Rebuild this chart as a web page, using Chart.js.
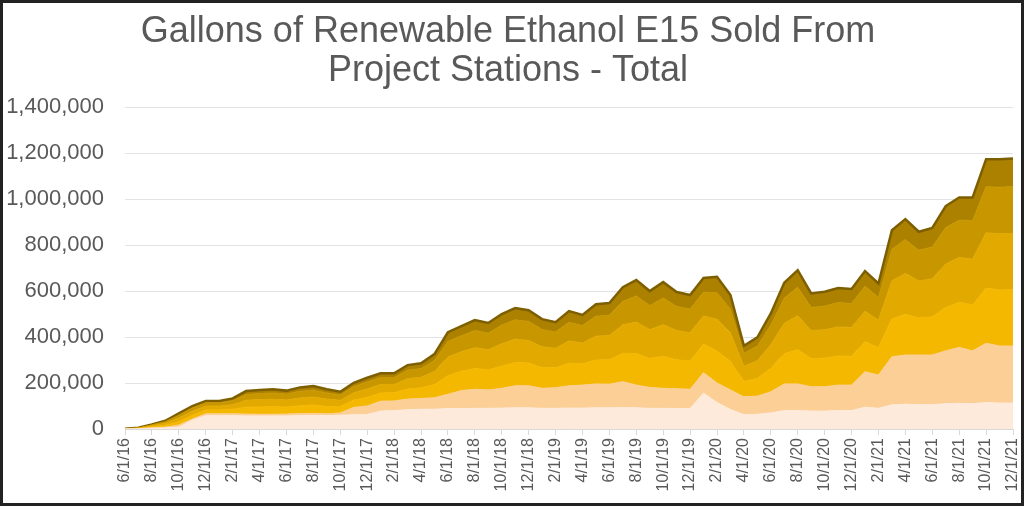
<!DOCTYPE html>
<html>
<head>
<meta charset="utf-8">
<script src="https://cdn.jsdelivr.net/npm/chart.js@4.4.1/dist/chart.umd.min.js"></script>
<style>
  html, body { margin: 0; padding: 0; background: #fff; }
  #frame { width: 1024px; height: 506px; box-sizing: border-box; border: 3px solid #222; position: relative; }
  #wrap { width: 1018px; height: 500px; }
</style>
</head>
<body>
<div id="frame"><div id="wrap"><canvas id="myChart" width="1018" height="500"></canvas></div></div>
<script>
// months, 6/1/16 .. 12/1/21
var months = [
  "6/1/16","7/1/16","8/1/16","9/1/16","10/1/16","11/1/16","12/1/16",
  "1/1/17","2/1/17","3/1/17","4/1/17","5/1/17","6/1/17","7/1/17","8/1/17","9/1/17","10/1/17","11/1/17","12/1/17",
  "1/1/18","2/1/18","3/1/18","4/1/18","5/1/18","6/1/18","7/1/18","8/1/18","9/1/18","10/1/18","11/1/18","12/1/18",
  "1/1/19","2/1/19","3/1/19","4/1/19","5/1/19","6/1/19","7/1/19","8/1/19","9/1/19","10/1/19","11/1/19","12/1/19",
  "1/1/20","2/1/20","3/1/20","4/1/20","5/1/20","6/1/20","7/1/20","8/1/20","9/1/20","10/1/20","11/1/20","12/1/20",
  "1/1/21","2/1/21","3/1/21","4/1/21","5/1/21","6/1/21","7/1/21","8/1/21","9/1/21","10/1/21","11/1/21","12/1/21"
];

// cumulative stack heights (gallons), bottom layer first
var stackCream = [
  0,1000,3000,5000,8000,38000,58000,
  58000,58000,57000,57000,57000,57000,58000,59000,58000,60000,62000,63000,
  78000,80000,84000,86000,86000,89000,89000,90000,90000,91000,92000,92000,
  90000,90000,91000,91000,92000,92000,93000,92000,90000,90000,89000,89000,
  156000,115000,85000,62000,64000,70000,80000,80000,78000,78000,80000,80000,
  95000,90000,105000,108000,106000,106000,110000,112000,110000,115000,113000,113000
];
var stackPeach = [
  0,2000,5000,8000,17000,43000,66000,
  66000,66000,65000,64000,64000,65000,67000,68000,66000,70000,94000,100000,
  121000,122000,130000,133000,136000,151000,167000,173000,170000,177000,188000,188000,
  177000,180000,188000,191000,196000,195000,206000,191000,181000,177000,175000,173000,
  245000,200000,170000,140000,143000,162000,196000,196000,184000,184000,191000,191000,
  249000,235000,314000,322000,322000,322000,340000,355000,340000,373000,361000,361000
];
var stackGold = [
  0,3000,10000,16000,32000,60000,83000,
  83000,86000,95000,96000,97000,96000,101000,104000,98000,98000,126000,137000,
  157000,158000,174000,179000,193000,232000,251000,263000,257000,274000,289000,287000,
  267000,266000,286000,283000,300000,301000,329000,328000,307000,316000,301000,296000,
  369000,339000,294000,207000,220000,264000,328000,345000,306000,308000,318000,316000,
  380000,354000,479000,499000,483000,488000,529000,551000,540000,613000,605000,606000
];
var stackAmber = [
  1000,4000,14000,25000,48000,77000,100000,
  100000,106000,125000,128000,129000,126000,135000,139000,130000,125000,158000,174000,
  194000,194000,219000,225000,250000,313000,336000,354000,345000,371000,391000,385000,
  358000,351000,383000,374000,404000,407000,453000,465000,432000,454000,428000,419000,
  492000,477000,418000,273000,297000,367000,460000,493000,428000,432000,444000,442000,
  512000,474000,645000,677000,644000,654000,718000,746000,740000,854000,849000,851000
];
var stackBronze = [
  1000,5000,18000,32000,60000,91000,114000,
  114000,123000,150000,154000,157000,152000,164000,169000,157000,148000,185000,205000,
  224000,224000,256000,263000,298000,381000,406000,429000,417000,452000,475000,468000,
  433000,422000,464000,450000,491000,495000,555000,579000,537000,570000,533000,522000,
  595000,593000,521000,329000,361000,452000,570000,617000,529000,535000,550000,546000,
  621000,573000,782000,824000,778000,792000,876000,909000,907000,1054000,1052000,1055000
];
var totalGallons = [
  1000,6000,20000,36000,68000,100000,122000,
  122000,133000,165000,170000,173000,167000,181000,187000,173000,162000,201000,223000,
  242000,242000,278000,286000,326000,421000,448000,474000,461000,500000,526000,517000,
  478000,465000,513000,496000,543000,548000,617000,648000,600000,639000,596000,583000,
  657000,662000,583000,362000,399000,503000,636000,691000,590000,597000,613000,609000,
  687000,633000,865000,913000,858000,875000,970000,1007000,1007000,1174000,1174000,1177000
];
var yTicks = [0, 200000, 400000, 600000, 800000, 1000000, 1200000, 1400000];

var layers = [
  { data: stackCream,   color: '#FDEADA' },
  { data: stackPeach,   color: '#FBCF95' },
  { data: stackGold,    color: '#F5B800' },
  { data: stackAmber,   color: '#E2AA00' },
  { data: stackBronze,  color: '#C89700' },
  { data: totalGallons, color: '#AC8100' }
];

var datasets = layers.map(function (l, i) {
  var top = i === layers.length - 1;
  return {
    data: l.data,
    backgroundColor: l.color,
    borderColor: top ? '#7E5F00' : l.color,
    borderWidth: top ? 2.5 : 1,
    pointRadius: 0,
    tension: 0,
    fill: i === 0 ? 'origin' : '-1'
  };
});

var font = "'Liberation Sans', Arial, sans-serif";
var ctx = document.getElementById('myChart').getContext('2d');
var chart = new Chart(ctx, {
  type: 'line',
  data: { labels: months, datasets: datasets },
  options: {
    responsive: false,
    animation: false,
    layout: { padding: { left: 0, right: 8, top: 0, bottom: 2 } },
    plugins: {
      legend: { display: false },
      tooltip: { enabled: false },
      title: {
        display: true,
        text: ['Gallons of Renewable Ethanol E15 Sold From', 'Project Stations - Total'],
        color: '#595959',
        font: { family: font, size: 36, weight: 'normal', lineHeight: 1.1 },
        padding: { top: 9, bottom: 16 }
      }
    },
    scales: {
      x: {
        type: 'category',
        offset: false,
        grid: { drawOnChartArea: false, drawTicks: true, tickLength: 6, color: '#D9D9D9' },
        border: { color: '#D9D9D9' },
        ticks: {
          autoSkip: false, maxRotation: 90, minRotation: 90, padding: 3,
          color: '#595959', font: { family: font, size: 16 },
          callback: function (v, i) { return i % 2 === 0 ? months[i] : null; }
        },
        afterFit: function (s) { s.height = 72; s.paddingLeft = 0; s.paddingRight = 0; }
      },
      y: {
        min: 0, max: 1400000,
        afterBuildTicks: function (s) { s.ticks = yTicks.map(function (v) { return { value: v }; }); },
        grid: { color: '#E3E3E3', drawTicks: false },
        border: { display: false },
        ticks: {
          padding: 21, color: '#595959', font: { family: font, size: 22 },
          callback: function (v) { return v.toLocaleString('en-US'); }
        },
        afterFit: function (s) { s.width = 122; s.paddingTop = 0; }
      }
    }
  }
});
</script>
</body>
</html>
